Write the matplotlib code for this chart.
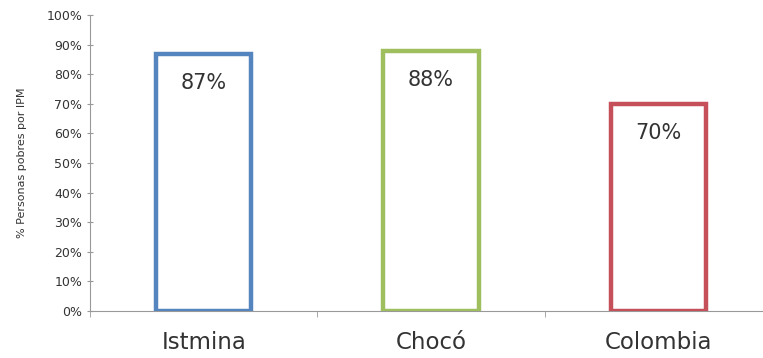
import matplotlib
matplotlib.use('Agg')
import matplotlib.pyplot as plt
import numpy as np

# datos
categorias = ['Istmina', 'Chocó', 'Colombia']
valores = [0.87, 0.88, 0.70]
colores = ['#5585BE', '#9FBE5E', '#C6505A']

fig = plt.figure(figsize=(7.63, 3.58), dpi=100)
ax = fig.add_axes([0.118, 0.131, 0.894, 0.827])

x = np.arange(len(categorias))
ax.bar(x, valores, width=0.42, facecolor='white', edgecolor=colores, linewidth=3.2, zorder=3)

for xi, v in zip(x, valores):
    ax.annotate(f'{v:.0%}', (xi, v), xytext=(0, -21), textcoords='offset points',
                ha='center', va='center', fontsize=15, color='#333333')

ax.set_xlim(-0.5, len(categorias) - 0.5)
ax.set_ylim(0, 1)
ax.set_yticks(np.arange(0, 1.01, 0.1))
ax.yaxis.set_major_formatter(plt.FuncFormatter(lambda v, _: f'{v:.0%}'))
ax.set_xticks(x)
ax.set_xticklabels(categorias, fontsize=16.5, color='#333333')
ax.set_xticks(np.arange(-0.5, len(categorias), 1), minor=True)
ax.tick_params(axis='x', which='major', length=0, pad=14)
ax.tick_params(axis='x', which='minor', length=4, color='#999999', direction='out')
ax.tick_params(axis='y', labelsize=9, labelcolor='#333333', length=4, color='#999999', direction='inout')

ax.set_ylabel('% Personas pobres por IPM', fontsize=8, color='#333333', labelpad=14)

for s in ['top', 'right']:
    ax.spines[s].set_visible(False)
for s in ['left', 'bottom']:
    ax.spines[s].set_color('#999999')

fig.savefig('out.png', dpi=100)
